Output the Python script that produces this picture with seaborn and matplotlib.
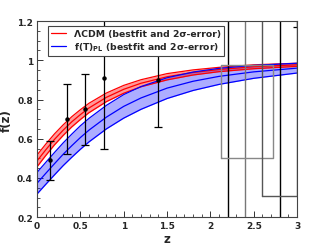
import numpy as np
import seaborn as sns
import matplotlib
matplotlib.use("Agg")
import matplotlib.pyplot as plt
from matplotlib.ticker import MultipleLocator

# model curves
z_grid = [0, 0.1, 0.2, 0.3, 0.4, 0.5, 0.6, 0.8, 1.0, 1.2, 1.5, 1.8, 2.1, 2.5, 3.0]
lcdm_best = [0.487, 0.543, 0.596, 0.643, 0.686, 0.723, 0.757, 0.811, 0.852, 0.883, 0.916, 0.938, 0.953, 0.967, 0.977]
lcdm_low = [0.457, 0.514, 0.568, 0.616, 0.660, 0.698, 0.733, 0.789, 0.832, 0.865, 0.900, 0.925, 0.942, 0.957, 0.969]
lcdm_up = [0.517, 0.572, 0.624, 0.670, 0.712, 0.748, 0.781, 0.833, 0.872, 0.901, 0.932, 0.951, 0.964, 0.977, 0.985]
ftpl_best = [0.373, 0.423, 0.472, 0.520, 0.564, 0.606, 0.644, 0.710, 0.765, 0.808, 0.858, 0.893, 0.918, 0.941, 0.960]
ftpl_low = [0.318, 0.367, 0.415, 0.462, 0.505, 0.546, 0.584, 0.650, 0.705, 0.750, 0.805, 0.846, 0.877, 0.908, 0.935]
ftpl_up = [0.428, 0.479, 0.529, 0.578, 0.623, 0.666, 0.704, 0.770, 0.825, 0.866, 0.911, 0.940, 0.959, 0.974, 0.985]

# growth data
z_data = [0.15, 0.35, 0.55, 0.77, 1.4, 3.0]
f_data = [0.49, 0.70, 0.75, 0.91, 0.90, 1.46]
f_err = [0.10, 0.18, 0.18, 0.36, 0.24, 0.29]

# high-z measurements with huge errors
vline_z = [2.2, 2.4, 2.8]
vline_colors = ["black", "#777777", "black"]
box_z0 = [2.12, 2.6]
box_z1 = [2.72, 3.0]
box_f0 = [0.50, 0.31]
box_f1 = [0.977, 1.3]
box_colors = ["#888888", "#555555"]

sns.set_style("ticks")
plt.rcParams["font.family"] = ["DejaVu Sans"]
plt.rcParams["font.weight"] = "bold"

fig = plt.figure(figsize=(3.14, 2.51), dpi=100)
ax = fig.add_axes([0.118, 0.131, 0.828, 0.781])

ax.fill_between(z_grid, lcdm_low, lcdm_up, color="red", alpha=0.4, lw=0)
ax.fill_between(z_grid, ftpl_low, ftpl_up, color="blue", alpha=0.32, lw=0)
sns.lineplot(x=z_grid, y=lcdm_best, color="red", lw=0.9, ax=ax, label="\u039bCDM (bestfit and 2\u03c3-error)")
sns.lineplot(x=z_grid, y=lcdm_low, color="red", lw=0.9, ax=ax)
sns.lineplot(x=z_grid, y=lcdm_up, color="red", lw=0.9, ax=ax)
sns.lineplot(x=z_grid, y=ftpl_best, color="blue", lw=0.9, ax=ax, label="f(T)$_{\\mathbf{PL}}$ (bestfit and 2\u03c3-error)")
sns.lineplot(x=z_grid, y=ftpl_low, color="blue", lw=0.9, ax=ax)
sns.lineplot(x=z_grid, y=ftpl_up, color="blue", lw=0.9, ax=ax)

ax.errorbar(z_data, f_data, yerr=f_err, fmt="o", color="black", ms=2.2,
            elinewidth=0.9, capsize=3, capthick=0.9)

for z, c in zip(vline_z, vline_colors):
    ax.axvline(z, color=c, lw=1.0)
for z0, z1, f0, f1, c in zip(box_z0, box_z1, box_f0, box_f1, box_colors):
    ax.plot([z0, z1, z1, z0, z0], [f0, f0, f1, f1, f0], color=c, lw=1.0)

ax.set_xlim(0, 3)
ax.set_ylim(0.2, 1.2)
ax.xaxis.set_major_locator(MultipleLocator(0.5))
ax.xaxis.set_minor_locator(MultipleLocator(0.1))
ax.yaxis.set_major_locator(MultipleLocator(0.2))
ax.yaxis.set_minor_locator(MultipleLocator(0.05))
ax.set_xticks([0, 0.5, 1, 1.5, 2, 2.5, 3])
ax.set_xticklabels(["0", "0.5", "1", "1.5", "2", "2.5", "3"])
ax.set_yticks([0.2, 0.4, 0.6, 0.8, 1, 1.2])
ax.set_yticklabels(["0.2", "0.4", "0.6", "0.8", "1", "1.2"])
ax.tick_params(which="major", direction="in", length=4, width=0.7, labelsize=6.5, pad=3, color="#333333")
ax.tick_params(which="minor", direction="in", length=2, width=0.6, color="#333333")
for s in ax.spines.values():
    s.set_color("#444444")
    s.set_linewidth(0.8)

ax.set_xlabel("z", fontsize=8.5, fontweight="bold", labelpad=1)
ax.set_ylabel("f(z)", fontsize=8.5, fontweight="bold", labelpad=3)

leg = ax.legend(loc="upper left", bbox_to_anchor=(0.042, 0.975), borderaxespad=0,
                fontsize=6.7, handlelength=1.6, fancybox=False, framealpha=1,
                edgecolor="#444444", borderpad=0.35, labelspacing=0.2)
leg.get_frame().set_linewidth(0.8)
for t in leg.get_texts():
    t.set_fontweight("bold")

fig.savefig("out.png", dpi=100)
